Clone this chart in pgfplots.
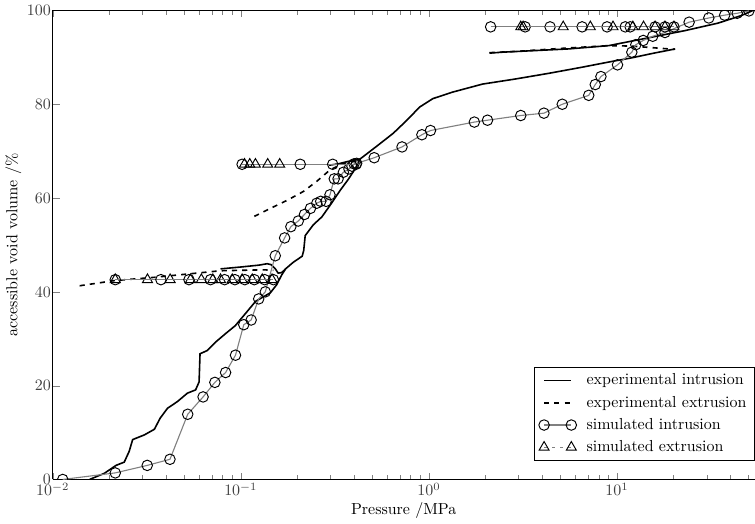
\documentclass[border=0pt]{standalone}
\usepackage{pgfplots}
\pgfplotsset{compat=1.18}
\definecolor{simgray}{RGB}{128,128,128}
\begin{document}
\begin{tikzpicture}
\begin{axis}[
  xmode=log, xmin=0.01, xmax=54, ymin=0, ymax=100,
  width=440pt, height=294pt, scale only axis,
  axis y line*=left, axis x line*=box,
  ytick={0,20,40,60,80,100},
  tick label style={color=black!75},
  yticklabel style={inner xsep=1pt},
  xticklabel style={inner ysep=2pt},
  xlabel={Pressure /MPa}, ylabel={accessible void volume /\%},
  xlabel style={yshift=1.5pt}, ylabel style={yshift=-1pt},
  clip marker paths=true,
  legend style={at={(1,0.04)}, anchor=south east, draw=black, cells={anchor=west}, row sep=1.5pt, inner xsep=3pt},
  legend image code/.code={\draw[mark repeat=2,mark phase=1,#1] plot coordinates {(0cm,0cm) (0.3cm,0cm) (0.6cm,0cm)}; \path (0.85cm,0cm);},
  exp/.style={black, line width=1.0pt, no markers},
  expx/.style={black, line width=1.0pt, dash pattern=on 3.2pt off 3.2pt, no markers},
  simc/.style={simgray, line width=0.7pt, mark=o, mark size=3.3pt, mark options={solid, draw=black, fill=none, line width=0.6pt}},
  simt/.style={simgray, line width=0.7pt, dash pattern=on 2pt off 3pt, mark=triangle, mark size=3.6pt, mark options={solid, draw=black, fill=none, line width=0.6pt}},
]
% experimental intrusion (main curve)
\addplot[exp] coordinates {(0.0157,0)(0.0188,1.3)(0.0217,3.0)(0.024,3.7)(0.0255,6)(0.0266,8.5)(0.0307,9.5)(0.0347,10.7)(0.0373,13.1)(0.0408,15.2)(0.046,16.6)(0.052,18.4)(0.0575,19.1)(0.0600,20.8)(0.0607,26.8)(0.0664,27.5)(0.0735,29.3)(0.083,31.1)(0.0935,32.8)(0.108,35.8)(0.12,38.0)(0.1436,39.8)(0.155,41.5)(0.165,43.6)(0.173,44.9)(0.19,46.3)(0.212,47.6)(0.216,48.8)(0.22,52.0)(0.243,54.3)(0.27,56.0)(0.30,58.6)(0.337,61.6)(0.373,64.0)(0.405,66.2)(0.43,68.3)(0.526,71.0)(0.646,73.8)(0.76,76.5)(0.893,79.4)(1.05,81.2)(1.34,82.6)(1.93,84.3)(2.9,85.4)(4.35,86.6)(6.53,87.9)(9.04,89.0)(12,89.9)(15.3,90.8)(20.4,91.8)};
\addlegendentry{experimental intrusion}
\addplot[exp, forget plot] coordinates {(0.078,44.9)(0.1,45.3)(0.125,45.7)(0.138,46.0)(0.145,45.8)(0.152,45.0)(0.158,44.0)(0.165,44.1)(0.173,44.9)};
\addplot[exp, forget plot] coordinates {(0.295,67.0)(0.33,67.3)(0.37,67.8)(0.43,68.3)};
\addplot[exp, forget plot] coordinates {(2.1,90.9)(2.46,91.1)(5.55,91.8)(9.04,92.5)(15.3,94.3)(23,95.7)(34.5,97.3)(45.8,98.9)(55,100.3)};
% experimental extrusion
\addplot[expx] coordinates {(0.0139,41.3)(0.0213,42.4)(0.0347,43.1)(0.052,43.8)(0.078,44.5)(0.132,44.7)(0.149,44.6)};
\addlegendentry{experimental extrusion}
\addplot[expx, forget plot] coordinates {(0.118,56.1)(0.1436,57.8)(0.176,59.5)(0.215,61.4)(0.254,63.6)(0.298,66.0)(0.351,67.4)(0.413,67.9)};
\addplot[expx, forget plot] coordinates {(2.1,91.0)(3,91.3)(5,91.9)(9,92.5)(12,92.4)(15,92.1)(20.3,91.7)};
% simulated intrusion
\addplot[simc] coordinates {(0.0113,0)(0.0215,1.4)(0.0318,3.0)(0.042,4.3)(0.0522,13.9)(0.063,17.6)(0.0728,20.7)(0.083,22.8)(0.0937,26.5)(0.1037,33.0)(0.1135,34.0)(0.1245,38.5)(0.135,40.0)(0.1525,47.7)(0.171,51.5)(0.1846,53.9)(0.202,55.1)(0.218,56.5)(0.2346,57.8)(0.2535,58.9)(0.266,59.3)(0.284,59.3)(0.298,60.7)(0.314,64.1)(0.329,64.1)(0.351,65.5)(0.376,66.2)(0.39,66.8)(0.40,67.3)(0.413,67.4)(0.512,68.6)(0.72,70.9)(0.918,73.5)(1.02,74.4)(1.745,76.2)(2.05,76.6)(3.08,77.6)(4.09,78.1)(5.12,80.0)(7.08,81.9)(7.67,84.2)(8.22,85.9)(10.07,88.4)(12.0,91.1)(12.6,92.7)(13.8,93.6)(15.5,94.5)(18.0,95.3)(24.2,97.5)(30.8,98.4)(37.4,99.0)(43.6,99.4)(50.3,99.9)};
\addlegendentry{simulated intrusion}
% simulated extrusion
\addplot[simt] coordinates {(0.0215,42.6)(0.0319,42.6)(0.0421,42.6)(0.054,42.6)(0.0617,42.6)(0.071,42.6)(0.078,42.6)(0.090,42.6)(0.1016,42.6)(0.115,42.6)(0.130,42.6)(0.1466,42.6)};
\addlegendentry{simulated extrusion}
\addplot[simc, forget plot] coordinates {(0.0215,42.6)(0.0376,42.6)(0.053,42.6)(0.069,42.6)(0.082,42.6)(0.093,42.6)(0.105,42.6)(0.118,42.6)(0.134,42.6)(0.149,42.6)};
\addplot[simc, forget plot] coordinates {(0.1016,67.2)(0.207,67.2)(0.308,67.2)(0.41,67.2)};
\addplot[simt, forget plot] coordinates {(0.1046,67.2)(0.1116,67.2)(0.1196,67.2)(0.139,67.2)(0.161,67.2)};
\addplot[simc, forget plot] coordinates {(2.13,96.5)(3.25,96.5)(4.41,96.5)(6.53,96.5)(8.86,96.5)(11.07,96.5)(11.76,96.5)(15.95,96.5)(18.0,96.5)(20.1,96.5)};
\addplot[simt, forget plot] coordinates {(3.08,96.5)(3.17,96.5)(5.18,96.5)(7.22,96.5)(9.53,96.5)(12.15,96.5)(13.85,96.5)(15.95,96.5)(18.0,96.5)(20.1,96.5)};
\end{axis}
\end{tikzpicture}
\end{document}
